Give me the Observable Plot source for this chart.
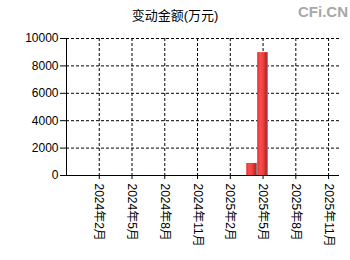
<!DOCTYPE html>
<html>
<head>
<meta charset="utf-8">
<script src="https://cdn.jsdelivr.net/npm/d3@7"></script>
<script src="https://cdn.jsdelivr.net/npm/@observablehq/plot@0.6"></script>
<style>
  html, body { margin: 0; padding: 0; background: #fff; }
  svg { font-family: "Liberation Sans", Arial, "Noto Sans CJK SC", sans-serif; }
</style>
</head>
<body>
<div id="chart"></div>
<script>
// ---- data ----
const title = "变动金额(万元)";
const watermark = "CFi.CN";
const barMonths = ["2025-04", "2025-05"];
const barValues = [880, 8970];
const tickMonths = ["2024-02", "2024-05", "2024-08", "2024-11", "2025-02", "2025-05", "2025-08", "2025-11"];
const tickLabels = ["2024年2月", "2024年5月", "2024年8月", "2024年11月", "2025年2月", "2025年5月", "2025年8月", "2025年11月"];
const yTicks = [0, 2000, 4000, 6000, 8000, 10000];
const domainStart = "2023-11";
const domainEnd = "2025-12";

// month index relative to domain start
function mIdx(s) {
  const [y, m] = s.split("-").map(Number);
  const [y0, m0] = domainStart.split("-").map(Number);
  return (y - y0) * 12 + (m - m0);
}
const bars = barMonths.map((d, i) => ({x: mIdx(d), v: barValues[i]}));
const xTicks = tickMonths.map(mIdx);
const labelOf = new Map(xTicks.map((t, i) => [t, tickLabels[i]]));

const plot = Plot.plot({
  width: 350,
  height: 260,
  marginLeft: 66,
  marginRight: 11,
  marginTop: 38,
  marginBottom: 85,
  style: {fontSize: "12px", color: "#000", background: "#fff"},
  x: {type: "linear", domain: [0, mIdx(domainEnd)]},
  y: {domain: [0, 10000]},
  marks: [
    Plot.gridY(yTicks.filter(d => d > 0), {stroke: "#000", strokeOpacity: 1, strokeDasharray: "3,2"}),
    Plot.gridX(xTicks, {stroke: "#000", strokeOpacity: 1, strokeDasharray: "3,2"}),
    Plot.rectY(bars, {x1: d => d.x - 0.49, x2: d => d.x + 0.49, y: "v", fill: "url(#barGrad)"}),
    Plot.ruleY([0], {stroke: "#000"}),
    Plot.ruleX([0], {stroke: "#000"}),
    Plot.axisY(yTicks, {tickSize: 6, tickPadding: 2, label: null, tickFormat: d => String(d), fontSize: 12}),
    Plot.axisX(xTicks, {tickSize: 4, tickPadding: 4, tickRotate: 90, label: null, tickFormat: d => labelOf.get(d), fontSize: 12})
  ]
});

const svg = d3.select(plot);
const defs = svg.insert("defs", ":first-child");
const g = defs.append("linearGradient").attr("id", "barGrad").attr("x1", "0").attr("x2", "1").attr("y1", "0").attr("y2", "0");
[["0%", "#d83030"], ["25%", "#ff4a4a"], ["55%", "#f04040"], ["85%", "#b02828"], ["100%", "#909090"]]
  .forEach(([o, c]) => g.append("stop").attr("offset", o).attr("stop-color", c));

svg.append("text").attr("x", 175).attr("y", 20).attr("text-anchor", "middle")
  .attr("font-size", 13).attr("fill", "#000").text(title);
svg.append("text").attr("x", 348).attr("y", 17).attr("text-anchor", "end")
  .attr("font-size", 15).attr("font-weight", "bold").attr("fill", "#a8a8a8").text(watermark);

document.getElementById("chart").appendChild(plot);
</script>
</body>
</html>
